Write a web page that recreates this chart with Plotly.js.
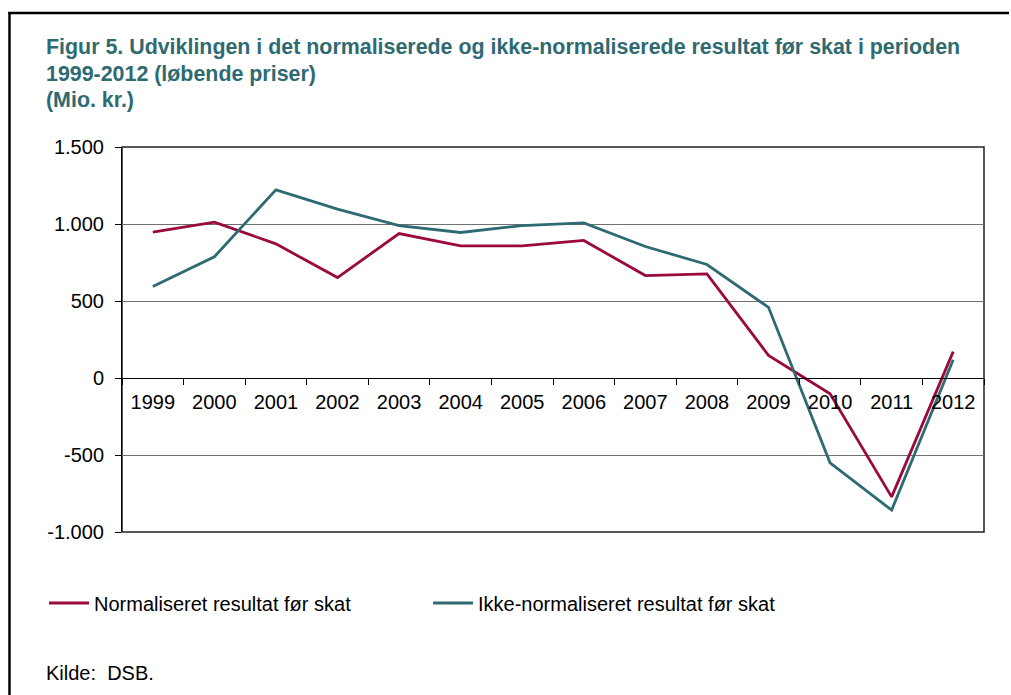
<!DOCTYPE html>
<html>
<head>
<meta charset="utf-8">
<script src="https://cdn.plot.ly/plotly-3.0.1.min.js"></script>
<style>
  html, body { margin: 0; padding: 0; background: #ffffff; overflow: hidden; }
  #chart { width: 1011px; height: 695px; }
</style>
</head>
<body>
<div id="chart"></div>
<script>
// ---- data ----
const years = ["1999","2000","2001","2002","2003","2004","2005","2006","2007","2008","2009","2010","2011","2012"];
const normaliseret = [947, 1012, 871, 652, 938, 858, 858, 893, 665, 676, 147, -102, -772, 171];
const ikkeNormaliseret = [594, 787, 1222, 1097, 990, 945, 990, 1007, 854, 737, 459, -551, -858, 118];
const seriesNames = ["Normaliseret resultat før skat", "Ikke-normaliseret resultat før skat"];
const yTickVals = [-1000, -500, 0, 500, 1000, 1500];
const yTickText = ["-1.000", "-500", "0", "500", "1.000", "1.500"];
const titleLines = ["Figur 5. Udviklingen i det normaliserede og ikke-normaliserede resultat før skat i perioden", "1999-2012 (løbende priser)", "(Mio. kr.)"];
const sourceText = "Kilde:  DSB.";

// ---- layout helpers (pixel -> paper) ----
const W = 1011, H = 695;
const M = { l: 122, r: 27, t: 147, b: 163 };
const pw = W - M.l - M.r, ph = H - M.t - M.b;
const px = x => (x - M.l) / pw;
const py = y => (H - M.b - y) / ph;

const FONT = "Liberation Sans, Arial, sans-serif";
const RED = "#9a0a3c";
const TEAL = "#2e6a72";

const traces = [
  { type: "scatter", mode: "lines", x: years, y: normaliseret, name: seriesNames[0],
    line: { color: RED, width: 2.8 } },
  { type: "scatter", mode: "lines", x: years, y: ikkeNormaliseret, name: seriesNames[1],
    line: { color: TEAL, width: 2.8 } }
];

const layout = {
  width: W, height: H,
  margin: M,
  paper_bgcolor: "#ffffff",
  plot_bgcolor: "#ffffff",
  font: { family: FONT, size: 20, color: "#000000" },
  showlegend: true,
  legend: {
    orientation: "h",
    x: px(44), xanchor: "left",
    y: py(603), yanchor: "middle",
    font: { family: FONT, size: 20, color: "#000000" },
    itemwidth: 40,
    entrywidth: 329,
    bgcolor: "rgba(0,0,0,0)",
    traceorder: "normal"
  },
  xaxis: {
    type: "category",
    anchor: "free",
    position: 0.4,
    range: [-0.5, 13.5],
    tickson: "boundaries",
    ticks: "outside",
    ticklen: 6,
    tickcolor: "#000000",
    tickwidth: 1,
    showline: true,
    linecolor: "#000000",
    linewidth: 1,
    showgrid: false,
    zeroline: false,
    ticklabelstandoff: 6,
    tickfont: { family: FONT, size: 20, color: "#000000" },
    fixedrange: true
  },
  yaxis: {
    range: [-1000, 1500],
    tickvals: yTickVals,
    ticktext: yTickText,
    ticks: "outside",
    ticklen: 6,
    tickcolor: "#000000",
    showline: true,
    linecolor: "#000000",
    linewidth: 1,
    showgrid: true,
    gridcolor: "#707070",
    gridwidth: 1,
    zeroline: false,
    ticklabelstandoff: 7,
    tickfont: { family: FONT, size: 20, color: "#000000" },
    fixedrange: true
  },
  shapes: [
    // plot frame
    { type: "rect", xref: "paper", yref: "paper", x0: 0, x1: 1, y0: 0, y1: 1,
      line: { color: "#222222", width: 1.5 }, layer: "below" },
    // outer figure border (left and top)
    { type: "line", xref: "paper", yref: "paper", x0: px(9.5), x1: px(9.5), y0: py(12), y1: py(700),
      line: { color: "#000000", width: 2.5 } },
    { type: "line", xref: "paper", yref: "paper", x0: px(8.3), x1: px(1009), y0: py(13), y1: py(13),
      line: { color: "#000000", width: 2.5 } }
  ],
  annotations: [
    { xref: "paper", yref: "paper", x: px(44), y: py(47), xanchor: "left", yanchor: "middle",
      text: titleLines[0], showarrow: false,
      font: { family: FONT, size: 21.4, color: TEAL, weight: "bold" } },
    { xref: "paper", yref: "paper", x: px(44), y: py(74), xanchor: "left", yanchor: "middle",
      text: titleLines[1], showarrow: false,
      font: { family: FONT, size: 21.4, color: TEAL, weight: "bold" } },
    { xref: "paper", yref: "paper", x: px(44), y: py(100), xanchor: "left", yanchor: "middle",
      text: titleLines[2], showarrow: false,
      font: { family: FONT, size: 21.4, color: TEAL, weight: "bold" } },
    { xref: "paper", yref: "paper", x: px(44), y: py(673), xanchor: "left", yanchor: "middle",
      text: sourceText, showarrow: false,
      font: { family: FONT, size: 20, color: "#000000" } }
  ]
};

Plotly.newPlot("chart", traces, layout, { displayModeBar: false, staticPlot: true });
</script>
</body>
</html>
